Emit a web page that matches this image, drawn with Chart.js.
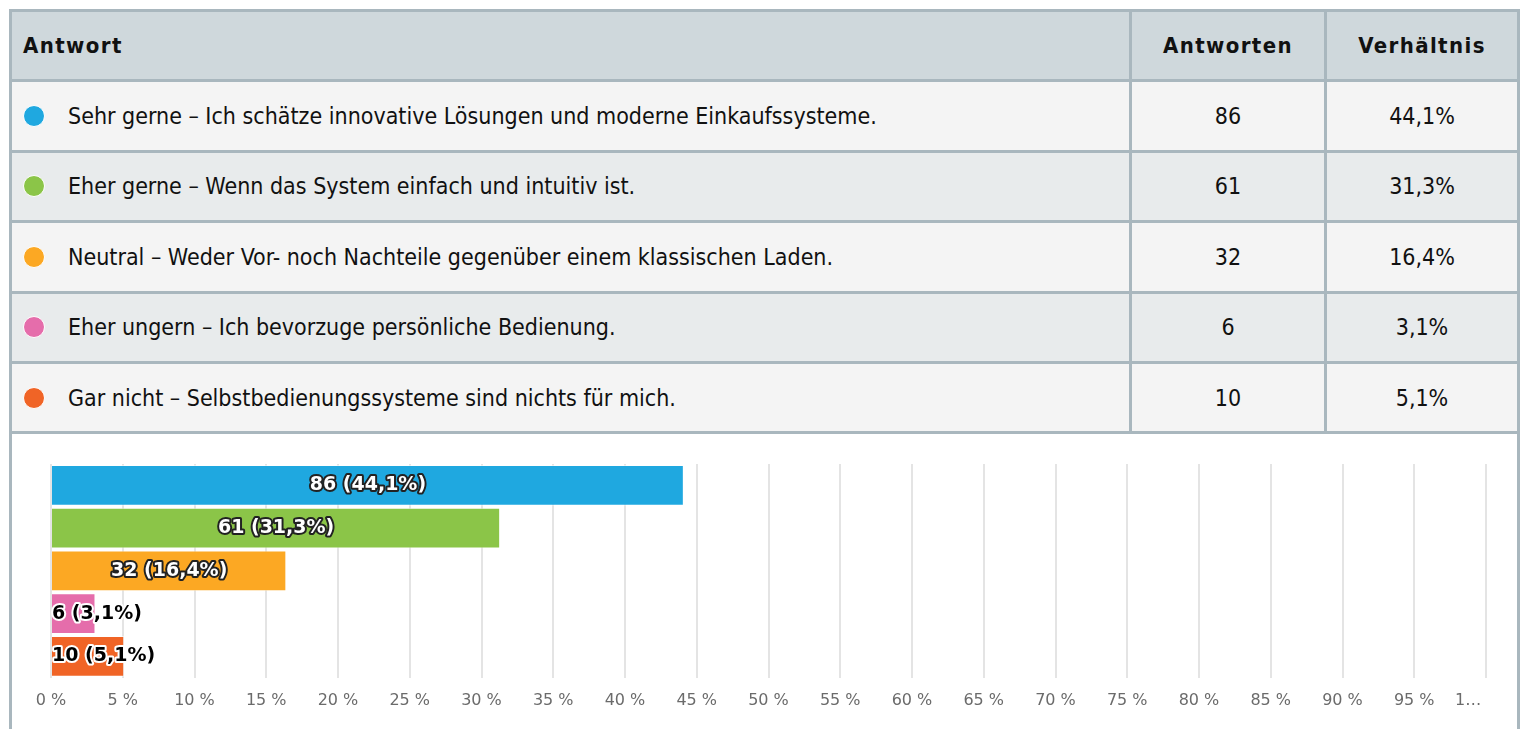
<!DOCTYPE html>
<html>
<head>
<meta charset="utf-8">
<script src="https://cdn.jsdelivr.net/npm/chart.js@4/dist/chart.umd.min.js"></script>
<style>
  html, body { margin: 0; padding: 0; background: #fff; width: 1522px; height: 729px; overflow: hidden; }
  #wrap { position: absolute; left: 9px; top: 9px; width: 1505px; border: 3px solid #a9b7be; border-bottom: none; }
  table { border-collapse: collapse; width: 100%; font-family: "DejaVu Sans Condensed", "Liberation Sans Narrow", sans-serif; }
  th, td { border: 3px solid #a9b7be; height: 67.4px; padding: 0; color: #111; }
  table tr:first-child th { border-top: none; }
  table tr th:first-child, table tr td:first-child { border-left: none; }
  table tr th:last-child, table tr td:last-child { border-right: none; }
  th { background: #cfd8dc; font-size: 22px; font-weight: bold; letter-spacing: 1.4px; }
  th.a { text-align: left; padding-left: 11px; }
  td { font-size: 23px; }
  tr.r0 td { background: #f4f4f4; }
  tr.r1 td { background: #e8ebec; }
  td.c { text-align: center; }
  td.lab { padding-left: 11px; }
  .dot { display: inline-block; width: 20px; height: 20px; border-radius: 50%; border: 1px solid #fff; vertical-align: -3px; margin-right: 23px; }
  #chartBox { position: relative; width: 1505px; height: 300px; }
</style>
</head>
<body>
<div id="wrap">
  <table id="tbl"></table>
  <div id="chartBox"><canvas id="c"></canvas></div>
</div>
<script>
const categories = [
  "Sehr gerne – Ich schätze innovative Lösungen und moderne Einkaufssysteme.",
  "Eher gerne – Wenn das System einfach und intuitiv ist.",
  "Neutral – Weder Vor- noch Nachteile gegenüber einem klassischen Laden.",
  "Eher ungern – Ich bevorzuge persönliche Bedienung.",
  "Gar nicht – Selbstbedienungssysteme sind nichts für mich."
];
const counts = [86, 61, 32, 6, 10];
const percents = [44.1, 31.3, 16.4, 3.1, 5.1];
const colors = ["#1fa8e0", "#8bc548", "#fca823", "#e56dab", "#f06426"];
const headers = ["Antwort", "Antworten", "Verhältnis"];
const xTicks = [0,5,10,15,20,25,30,35,40,45,50,55,60,65,70,75,80,85,90,95,100];

const fmtPct = v => v.toFixed(1).replace('.', ',') + '%';

// table
const tbl = document.getElementById('tbl');
let html = '<tr><th class="a">' + headers[0] + '</th><th style="width:192px">' + headers[1] + '</th><th style="width:190px">' + headers[2] + '</th></tr>';
categories.forEach((c, i) => {
  html += '<tr class="r' + (i % 2) + '"><td class="lab"><span class="dot" style="background:' + colors[i] + '"></span>' + c +
    '</td><td class="c">' + counts[i] + '</td><td class="c">' + fmtPct(percents[i]) + '</td></tr>';
});
tbl.innerHTML = html;

const labelPlugin = {
  id: 'barLabels',
  afterDatasetsDraw(chart) {
    const ctx = chart.ctx;
    const meta = chart.getDatasetMeta(0);
    ctx.save();
    ctx.font = 'bold 19px "DejaVu Sans"';
    ctx.textBaseline = 'middle';
    ctx.lineJoin = 'round';
    meta.data.forEach((bar, i) => {
      const txt = counts[i] + ' (' + fmtPct(percents[i]) + ')';
      const w = ctx.measureText(txt).width;
      const barW = bar.x - bar.base;
      let x, fill, stroke;
      if (w + 10 < barW) {
        ctx.textAlign = 'center';
        x = (bar.x + bar.base) / 2;
        fill = '#fff'; stroke = '#222';
      } else {
        ctx.textAlign = 'left';
        x = bar.base;
        fill = '#000'; stroke = '#fff';
      }
      ctx.lineWidth = 4;
      ctx.strokeStyle = stroke;
      ctx.strokeText(txt, x, bar.y);
      ctx.fillStyle = fill;
      ctx.fillText(txt, x, bar.y);
    });
    ctx.restore();
  }
};

new Chart(document.getElementById('c'), {
  type: 'bar',
  data: {
    labels: categories,
    datasets: [{
      data: percents,
      backgroundColor: colors,
      borderColor: 'rgba(255,255,255,0.55)',
      borderWidth: 1,
      categoryPercentage: 1,
      barPercentage: 0.95
    }]
  },
  options: {
    indexAxis: 'y',
    responsive: true,
    maintainAspectRatio: false,
    animation: false,
    layout: { padding: { left: 39, right: 31, top: 30, bottom: 11 } },
    plugins: { legend: { display: false }, tooltip: { enabled: false } },
    scales: {
      x: {
        min: 0, max: 100,
        afterBuildTicks: s => { s.ticks = xTicks.map(v => ({ value: v })); },
        afterFit: s => { s.paddingRight = 0; },
        grid: { color: '#e4e4e4', lineWidth: 2, drawTicks: false },
        border: { display: false },
        ticks: {
          padding: 13,
          color: '#6b6b6b',
          font: { family: '"DejaVu Sans"', size: 16 },
          maxRotation: 0, autoSkip: false,
          callback: v => v === 100 ? '1…' + '\u00a0'.repeat(7) : v + ' %'
        }
      },
      y: { display: false }
    }
  },
  plugins: [labelPlugin]
});
</script>
</body>
</html>
